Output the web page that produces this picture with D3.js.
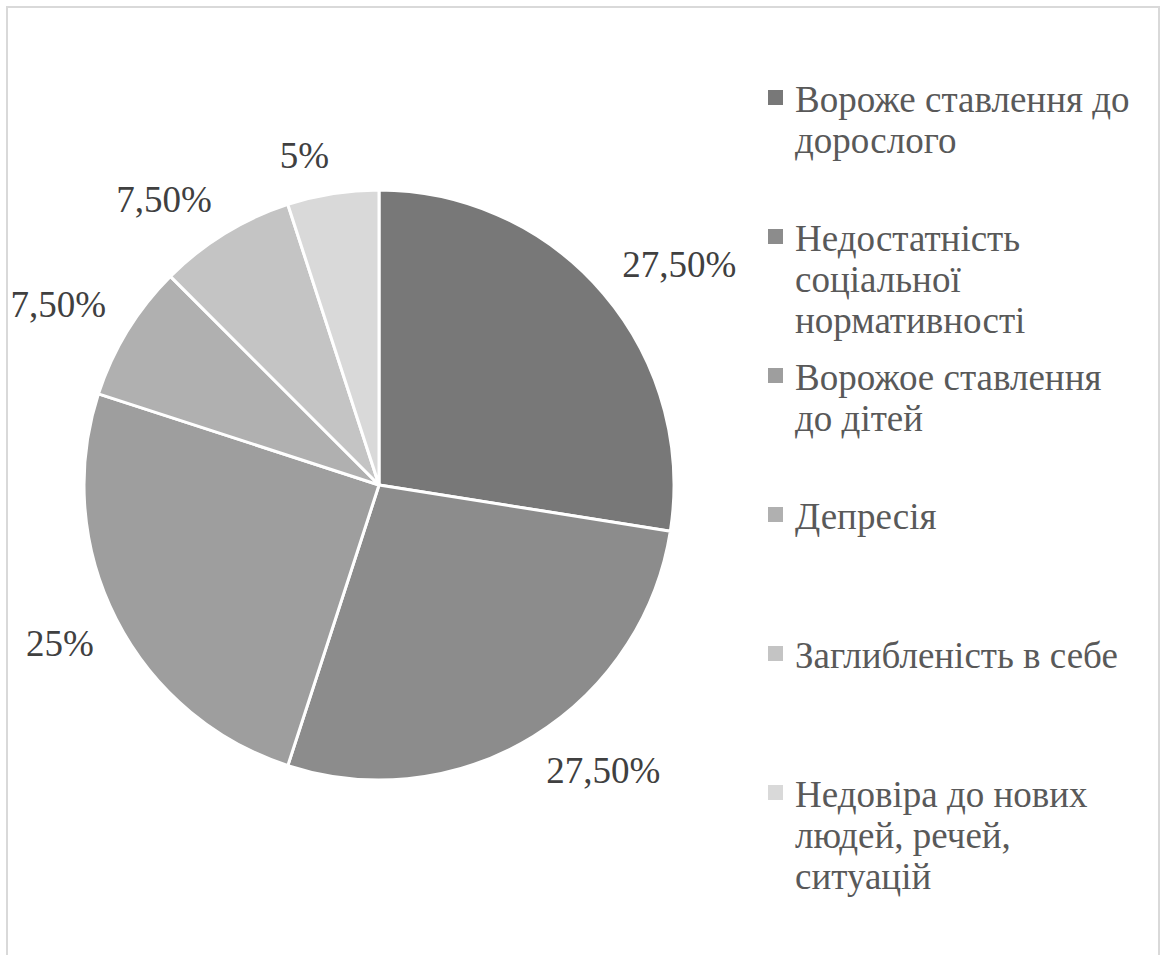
<!DOCTYPE html>
<html>
<head>
<meta charset="utf-8">
<script src="https://cdn.jsdelivr.net/npm/d3@7"></script>
<style>
  html, body { margin: 0; padding: 0; background: #fff; }
  svg { display: block; }
</style>
</head>
<body>
<svg id="chart" width="1166" height="955"></svg>
<script>
// Category names (legend lines split where the legend wraps them)
const categories = [
  ["Вороже ставлення до", "дорослого"],
  ["Недостатність", "соціальної", "нормативності"],
  ["Ворожое ставлення", "до дітей"],
  ["Депресія"],
  ["Заглибленість в себе"],
  ["Недовіра до нових", "людей, речей,", "ситуацій"]
];
// Share of each category, percent
const values = [27.5, 27.5, 25, 7.5, 7.5, 5];
// Data labels as printed next to slices
const valueLabels = ["27,50%", "27,50%", "25%", "7,50%", "7,50%", "5%"];
// Grey fill shades per slice
const colors = ["#787878", "#8c8c8c", "#9e9e9e", "#b0b0b0", "#c4c4c4", "#d9d9d9"];

const fontSize = 37;
const serif = '"Liberation Serif"';

// Canvas context used to measure label widths
const probe = document.createElement("canvas").getContext("2d");
probe.font = `${fontSize}px ${serif}`;

const svg = d3.select("#chart");
const cx = 379, cy = 485, radius = 295;

// Outer frame of the chart area
svg.append("rect")
  .attr("x", 7).attr("y", 7)
  .attr("width", 1152).attr("height", 1000)
  .attr("fill", "#fff")
  .attr("stroke", "#d9d9d9")
  .attr("stroke-width", 2);

const pie = d3.pie().sort(null).value(d => d);
const arcs = pie(values);
const arc = d3.arc().innerRadius(0).outerRadius(radius);
const color = d3.scaleOrdinal().domain(d3.range(values.length)).range(colors);

const g = svg.append("g").attr("transform", `translate(${cx},${cy})`);

g.selectAll("path.slice")
  .data(arcs)
  .join("path")
  .attr("class", "slice")
  .attr("d", arc)
  .attr("fill", (d, i) => color(i))
  .attr("stroke", "#fff")
  .attr("stroke-width", 3)
  .attr("stroke-linejoin", "round");

// Data labels outside the slices: the label box corner nearest the pie
// sits on a circle slightly larger than the pie, along the slice bisector.
const labelRing = radius + 25;
const boxH = 26;
const labels = g.selectAll("text.val")
  .data(arcs)
  .join("text")
  .attr("class", "val")
  .style("font-family", serif)
  .style("font-size", fontSize + "px")
  .attr("fill", "#404040")
  .attr("text-anchor", "middle")
  .attr("dominant-baseline", "central")
  .text((d, i) => valueLabels[i]);

labels.each(function (d, i) {
  const w = probe.measureText(valueLabels[i]).width;
  const a = (d.startAngle + d.endAngle) / 2;
  const dx = Math.sin(a), dy = -Math.cos(a);
  const x = labelRing * dx + Math.sign(dx) * w / 2;
  const y = labelRing * dy + Math.sign(dy) * boxH / 2;
  d3.select(this).attr("x", x).attr("y", y);
});

// Legend: one slot per entry, lines top-aligned in the slot
const legendX = 768, legendTextX = 795, firstBaseline = 112, slot = 139, lineH = 41;
const legend = svg.append("g").attr("class", "legend");
const items = legend.selectAll("g.item")
  .data(categories)
  .join("g")
  .attr("class", "item")
  .attr("transform", (d, i) => `translate(0,${firstBaseline + i * slot})`);

items.append("rect")
  .attr("x", legendX)
  .attr("y", -22)
  .attr("width", 15)
  .attr("height", 15)
  .attr("fill", (d, i) => color(i));

items.append("text")
  .style("font-family", serif)
  .style("font-size", fontSize + "px")
  .attr("fill", "#595959")
  .selectAll("tspan")
  .data(d => d)
  .join("tspan")
  .attr("x", legendTextX)
  .attr("y", (d, j) => j * lineH)
  .text(d => d);
</script>
</body>
</html>
